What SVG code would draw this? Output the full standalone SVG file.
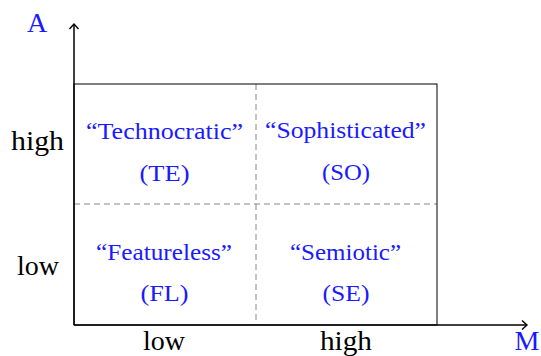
<svg xmlns="http://www.w3.org/2000/svg" width="541" height="356" viewBox="0 0 541 356">
<style>
.ax{stroke:#000;stroke-width:1.5;fill:none}
.box{stroke:#000;stroke-width:1;fill:none}
.dash{stroke:#888;stroke-width:1;stroke-dasharray:6 4;fill:none}
.lbl{font-family:"Liberation Serif",serif;font-size:28px;fill:#000;text-anchor:middle}
.blue{font-family:"Liberation Serif",serif;font-size:23px;fill:#1a1aff;text-anchor:middle}
.axl{font-family:"Liberation Serif",serif;font-size:28px;fill:#1a1aff;text-anchor:middle}
</style>
<defs>
<marker id="arr" markerWidth="10" markerHeight="12" refX="7" refY="6" orient="auto" markerUnits="userSpaceOnUse">
<path d="M2,1.5 L7,6 L2,10.5" fill="none" stroke="#000" stroke-width="1.4"/>
</marker>
</defs>
<g id="connectors">
<line class="dash" x1="256" y1="84" x2="256" y2="325"/>
<line class="dash" x1="74" y1="204" x2="437" y2="204"/>
<rect class="box" x="74" y="84" width="363" height="241"/>
<line class="ax" x1="74" y1="325" x2="74" y2="24" marker-end="url(#arr)"/>
<line class="ax" x1="74" y1="325" x2="527" y2="325" marker-end="url(#arr)"/>
</g>
<g id="axis-labels">
<text class="axl" x="37" y="32">A</text>
<text class="axl" x="527" y="349.5">M</text>
<text class="lbl" x="37.5" y="150" textLength="53" lengthAdjust="spacingAndGlyphs">high</text>
<text class="lbl" x="38" y="275">low</text>
<text class="lbl" x="164" y="349.5">low</text>
<text class="lbl" x="346" y="349.5" textLength="52" lengthAdjust="spacingAndGlyphs">high</text>
</g>
<g id="TE"><text class="blue" x="164.5" y="139" textLength="157" lengthAdjust="spacingAndGlyphs">“Technocratic”</text><text class="blue" x="164.5" y="181" textLength="50" lengthAdjust="spacingAndGlyphs">(TE)</text></g>
<g id="SO"><text class="blue" x="345.5" y="138" textLength="161" lengthAdjust="spacingAndGlyphs">“Sophisticated”</text><text class="blue" x="346" y="180" textLength="48" lengthAdjust="spacingAndGlyphs">(SO)</text></g>
<g id="FL"><text class="blue" x="164" y="260" textLength="136" lengthAdjust="spacingAndGlyphs">“Featureless”</text><text class="blue" x="164.5" y="301" textLength="48" lengthAdjust="spacingAndGlyphs">(FL)</text></g>
<g id="SE"><text class="blue" x="345.5" y="260" textLength="111" lengthAdjust="spacingAndGlyphs">“Semiotic”</text><text class="blue" x="346" y="301" textLength="47" lengthAdjust="spacingAndGlyphs">(SE)</text></g>
</svg>
